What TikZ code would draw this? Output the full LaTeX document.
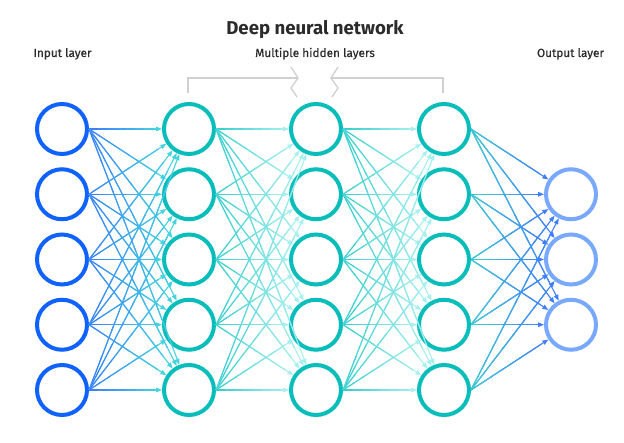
\documentclass[tikz,border=0pt]{standalone}
\usepackage{fontspec}
\setmainfont{Fira Sans}
\newfontfamily\lblfont[FakeBold=0.4]{Fira Sans}
\usetikzlibrary{calc,arrows.meta}
\definecolor{inblue}{HTML}{0F62FE}
\definecolor{hteal}{HTML}{08BDBA}
\definecolor{outblue}{HTML}{78A9FF}
\definecolor{eblue}{HTML}{3F7FFF}
\definecolor{ecyan}{HTML}{45D3E0}
\definecolor{eteal}{HTML}{3CCFD0}
\definecolor{elight}{HTML}{A8F0F0}
\definecolor{txt}{HTML}{2B2B2B}
\definecolor{brk}{HTML}{D0D0D0}
\tikzset{
  neuron/.style={circle, line width=4pt, minimum size=50pt, inner sep=0pt, fill=white},
  nnlink/.style={line width=1.1pt, -{Triangle[length=6pt,width=4.6pt]}},
  nnseg/.style={line width=1.1pt},
  lbl/.style={text=txt, anchor=base, font=\lblfont\fontsize{11.8}{12}\selectfont},
  brkline/.style={brk, line width=1.3pt, line join=miter}
}
\newcommand\gedge[4]{%
  \path (#1.east) coordinate (gs) ($(#2)!27pt!(#1.east)$) coordinate (gt);
  \draw[nnlink,#4] (gs) -- (gt);
  \foreach \k [evaluate=\k as \p using int(\k*100/7), evaluate=\k as \a using \k/8, evaluate=\k as \b using (\k+1.15)/8] in {0,...,6}{%
    \draw[nnseg,color=#4!\p!#3] ($(gs)!\a!(gt)$) -- ($(gs)!\b!(gt)$);
  }%
}
\begin{document}
\begin{tikzpicture}[x=1pt,y=-1pt]
\fill[white] (0,0) rectangle (624,443);
\useasboundingbox (0,0) rectangle (624,443);
% titles
\node[text=txt, anchor=base, font=\bfseries\fontsize{18.6}{19}\selectfont] (title) at (315,35) {Deep neural network};
\node[lbl] (linput) at (62.5,57) {Input layer};
\node[lbl] (lhidden) at (315,57) {Multiple hidden layers};
\node[lbl] (loutput) at (570.5,57) {Output layer};
% bracket
\coordinate (bl) at (188,93);
\coordinate (br) at (443,93);
\draw[brkline] (bl) -- (188,78) -- (298,78);
\draw[brkline] (291,67) -- (298,78) -- (291,88) -- (297,97);
\draw[brkline] (br) -- (443,78) -- (331,78);
\draw[brkline] (338,67) -- (331,78) -- (338,88) -- (332,97);
% neurons
\foreach \i/\y in {1/129,2/194.25,3/259.5,4/324.75,5/390}{
  \node[neuron,draw=inblue] (i\i) at (62,\y) {};
  \node[neuron,draw=hteal] (a\i) at (189,\y) {};
  \node[neuron,draw=hteal] (b\i) at (316,\y) {};
  \node[neuron,draw=hteal] (c\i) at (444,\y) {};
}
\foreach \j/\y in {1/194.25,2/259.5,3/324.75}{
  \node[neuron,draw=outblue] (o\j) at (571,\y) {};
}
% connections
\foreach \s in {1,...,5}{
  \foreach \t in {1,...,5}{
    \gedge{i\s}{a\t}{eblue}{ecyan}
    \gedge{a\s}{b\t}{eteal}{elight}
    \gedge{b\s}{c\t}{eteal}{elight}
  }
  \foreach \t in {1,2,3}{
    \gedge{c\s}{o\t}{eteal}{eblue}
  }
}
\end{tikzpicture}
\end{document}
